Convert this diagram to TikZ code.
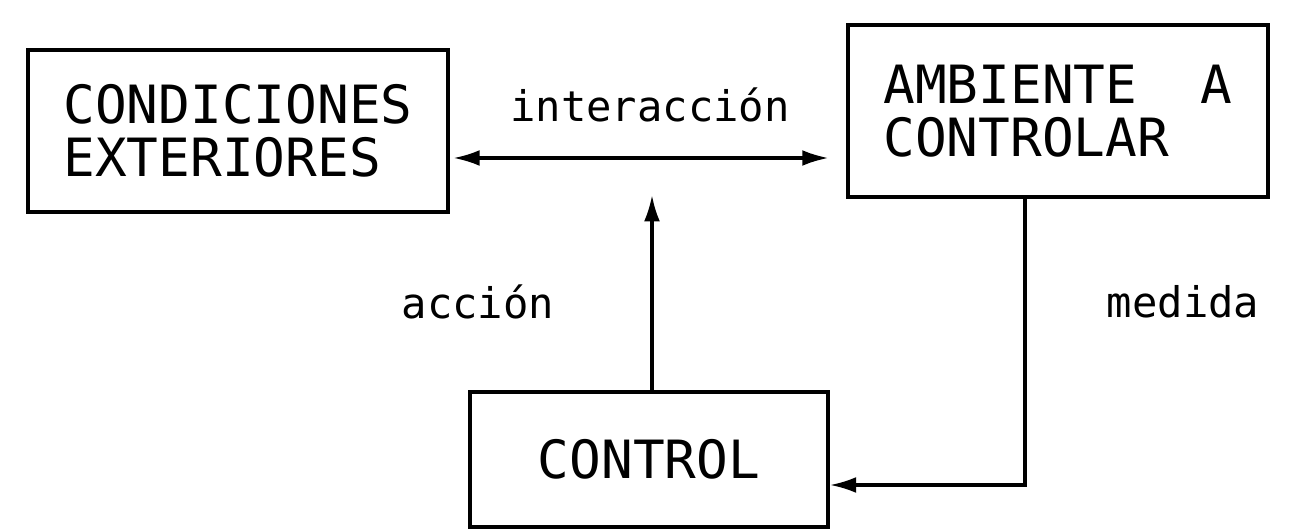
\documentclass[tikz,border=0pt]{standalone}
\usepackage{fontspec}
\setmainfont{DejaVu Sans Mono}
\usetikzlibrary{arrows.meta}
\tikzset{
  caja/.style={draw,line width=2pt,align=left,inner sep=0pt,
    font=\fontsize{30}{30}\selectfont},
  punta/.tip={Latex[length=15pt,width=9pt]},
  flecha/.style={line width=1.8pt,-punta},
  rotulo/.style={font=\fontsize{24}{24}\selectfont}
}

\begin{document}
\begin{tikzpicture}
\useasboundingbox (0,0) rectangle (25.86,10.62);
% ---- bloques
\node[caja,minimum width=8.4cm,minimum height=3.24cm] (cond) at (4.76,8.0)
  {CONDICIONES\\EXTERIORES};
\node[caja,minimum width=8.4cm,minimum height=3.44cm] (amb) at (21.16,8.4)
  {AMBIENTE\ \ A\\CONTROLAR};
\node[caja,minimum width=7.16cm,minimum height=2.7cm] (ctrl) at (12.98,1.43)
  {CONTROL};

% ---- puntos de paso
\coordinate (tope) at (13.04,6.72);
\coordinate (codo) at (20.5,0.92);

% ---- conexiones
\draw[flecha,punta-punta,shorten <=2pt,shorten >=10pt]
  (cond.east |- 0,7.46) -- (amb.west |- 0,7.46);
\draw[flecha] (ctrl.north -| tope) -- (tope);
\draw[flecha] (amb.south -| codo) -- (codo) -- (ctrl.east |- codo);

% ---- rotulos
\node[rotulo] (inter) at (13.0,8.52) {interacción};
\node[rotulo] (acc) at (9.56,4.58) {acción};
\node[rotulo] (med) at (23.66,4.58) {medida};
\end{tikzpicture}
\end{document}
